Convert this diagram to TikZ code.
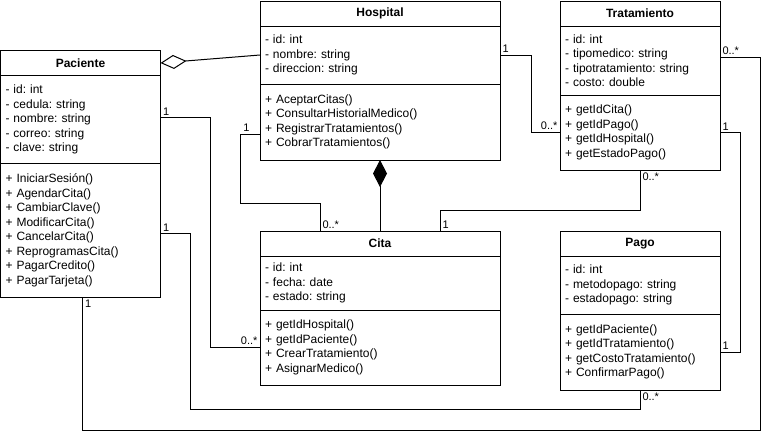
\documentclass[tikz,border=0pt]{standalone}
\usepackage{fontspec}
\setmainfont{Liberation Sans}
\frenchspacing
\usetikzlibrary{arrows.meta,positioning}

\begin{document}
\begin{tikzpicture}[%show background rectangle,
        x=1pt, y=-1pt,
        font=\fontsize{12}{14.5}\selectfont,
        line width=1pt,
        kopf/.style={draw, font=\fontsize{12}{14.5}\selectfont\bfseries,
            minimum height=25pt, inner sep=0pt, outer sep=0pt},
        teil/.style={draw, align=left, inner xsep=5pt, inner ysep=0pt, outer sep=0pt},
        mult/.style={font=\fontsize{11}{13}\selectfont, inner sep=2pt},
        aggregation/.style={-{Diamond[fill=white, length=26pt, width=14pt]}},
        komposition/.style={-{Diamond[length=27pt, width=14pt]}}
        ]
            \useasboundingbox[fill=white] (0,0) rectangle (762,432);

            % Klassen
            \node[kopf, minimum width=160pt, anchor=north west] (pac) at (0.5,50.5) {Paciente};
            \node[teil, text width=150pt, minimum height=88pt, below=0pt of pac] (pac-a)
                {- id: int\\- cedula: string\\- nombre: string\\- correo: string\\- clave: string};
            \node[teil, text width=150pt, minimum height=134pt, below=0pt of pac-a] (pac-m)
                {+ IniciarSesión()\\+ AgendarCita()\\+ CambiarClave()\\+ ModificarCita()\\
                 + CancelarCita()\\+ ReprogramasCita()\\+ PagarCredito()\\+ PagarTarjeta()};

            \node[kopf, minimum width=240pt, anchor=north west] (hos) at (260,1) {Hospital};
            \node[teil, text width=230pt, minimum height=58pt, below=0pt of hos] (hos-a)
                {- id: int\\- nombre: string\\- direccion: string};
            \node[teil, text width=230pt, minimum height=76pt, below=0pt of hos-a] (hos-m)
                {+ AceptarCitas()\\+ ConsultarHistorialMedico()\\+ RegistrarTratamientos()\\+ CobrarTratamientos()};

            \node[kopf, minimum width=160pt, anchor=north west] (tra) at (560,1) {Tratamiento};
            \node[teil, text width=150pt, minimum height=69pt, below=0pt of tra] (tra-a)
                {- id: int\\- tipomedico: string\\- tipotratamiento: string\\- costo: double};
            \node[teil, text width=150pt, minimum height=75pt, below=0pt of tra-a] (tra-m)
                {+ getIdCita()\\+ getIdPago()\\+ getIdHospital()\\+ getEstadoPago()};

            \node[kopf, minimum width=240pt, anchor=north west] (cit) at (260,231) {Cita};
            \node[teil, text width=230pt, minimum height=54pt, below=0pt of cit] (cit-a)
                {- id: int\\- fecha: date\\- estado: string};
            \node[teil, text width=230pt, minimum height=75pt, below=0pt of cit-a] (cit-m)
                {+ getIdHospital()\\+ getIdPaciente()\\+ CrearTratamiento()\\+ AsignarMedico()};

            \node[kopf, minimum width=160pt, anchor=north west] (pag) at (560,231) {Pago};
            \node[teil, text width=150pt, minimum height=58pt, below=0pt of pag] (pag-a)
                {- id: int\\- metodopago: string\\- estadopago: string};
            \node[teil, text width=150pt, minimum height=76pt, below=0pt of pag-a] (pag-m)
                {+ getIdPaciente()\\+ getIdTratamiento()\\+ getCostoTratamiento()\\+ ConfirmarPago()};

            % Aggregation, Komposition
            \draw[aggregation] (hos-a.west) -- (pac.east);
            \draw[komposition] (cit.north) -- (hos-m.south);

            % Assoziationen
            \draw   (hos-a.east) node[mult, anchor=south west] {1}
                    -- ++(31,0) |- (tra-m.west) node[mult, anchor=south east] {0..*};
            \draw   ([yshift=-12pt]hos-m.west) node[mult, anchor=south east, xshift=-8pt] {1}
                    -- ++(-20,0) -- ++(0,69) -| ([xshift=-60pt]cit.north) node[mult, anchor=south west] {0..*};
            \draw   (tra-m.south) node[mult, anchor=north west] {0..*}
                    -- ++(0,40) -| ([xshift=60pt]cit.north) node[mult, anchor=south west] {1};
            \draw   (tra-m.east) node[mult, anchor=south west] {1}
                    -- ++(20,0) |- (pag-m.east) node[mult, anchor=south west] {1};
            \draw   ([yshift=3pt]tra-a.east) node[mult, anchor=south west] {0..*}
                    -- ++(40,0) -- ++(0,372.5) -| ([xshift=2pt]pac-m.south) node[mult, anchor=north west] {1};
            \draw   ([yshift=-3pt]pac-m.east) node[mult, anchor=south west] {1}
                    -- ++(30,0) -- ++(0,176) -| (pag-m.south) node[mult, anchor=north west] {0..*};
            \draw   ([yshift=2pt]pac-a.east) node[mult, anchor=south west] {1}
                    -- ++(50,0) |- (cit-m.west) node[mult, anchor=south east] {0..*};

        \end{tikzpicture}
\end{document}
